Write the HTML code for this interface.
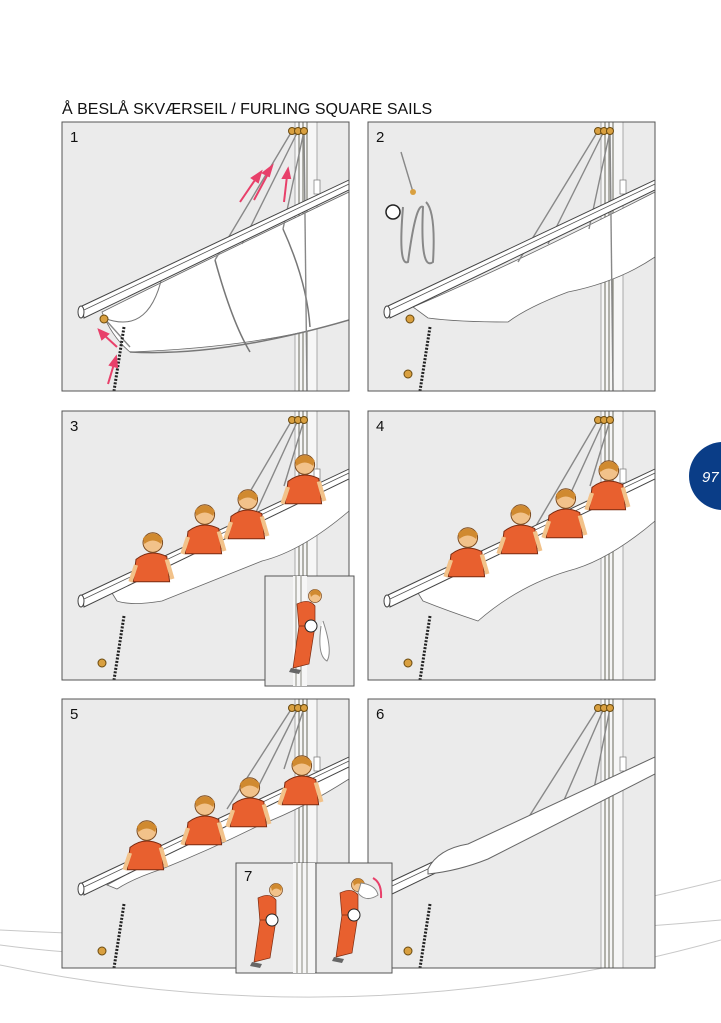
<!DOCTYPE html>
<html><head><meta charset="utf-8"><style>
html,body{margin:0;padding:0;background:#fff;}
svg{display:block;}
text{font-family:"Liberation Sans",sans-serif;}
</style></head><body>
<svg width="721" height="1023" viewBox="0 0 721 1023" xmlns="http://www.w3.org/2000/svg">
<defs>
 <clipPath id="pc"><rect x="0" y="0" width="287" height="269"/></clipPath>
 <g id="base">
  <rect x="0" y="0" width="287" height="269" fill="#ebebeb"/>
  <g clip-path="url(#pc)">
   <rect x="233" y="0" width="22" height="269" fill="#f6f6f6" stroke="#999" stroke-width="0.8"/>
   <line x1="237" y1="0" x2="237" y2="269" stroke="#8a8a80" stroke-width="1.3"/>
   <line x1="241" y1="0" x2="241" y2="269" stroke="#8a8a80" stroke-width="1.3"/>
   <line x1="245" y1="0" x2="245" y2="269" stroke="#8a8a80" stroke-width="1.3"/>
   <rect x="252" y="58" width="6" height="14" fill="#fff" stroke="#777" stroke-width="0.7"/>
  </g>
 </g>
 <g id="yard">
  <polygon points="20,184 287,58 287,68 22,196" fill="#fff" stroke="#444" stroke-width="1"/>
  <line x1="22" y1="188" x2="287" y2="62" stroke="#555" stroke-width="0.8"/>
  <ellipse cx="19" cy="190" rx="3" ry="6" fill="#fff" stroke="#444"/>
 </g>
 <g id="blocks">
  <circle cx="230" cy="9" r="3.5" fill="#d9a040" stroke="#6a4a10"/>
  <circle cx="236" cy="9" r="3.5" fill="#d9a040" stroke="#6a4a10"/>
  <circle cx="242" cy="9" r="3.5" fill="#d9a040" stroke="#6a4a10"/>
 </g>
 <g id="chain">
  <line x1="62" y1="205" x2="52" y2="269" stroke="#222" stroke-width="3" stroke-dasharray="2,1.5"/>
 </g>
 <g id="man0">
  <path d="M-10,6 Q0,-2 12,4 L14,22 L-12,22 Z" fill="#e8602f" stroke="#7a2a10" stroke-width="0.7"/>
  <circle cx="2" cy="-6" r="7" fill="#f2c28a" stroke="#7a4a20" stroke-width="0.7"/>
  <path d="M-5,-9 Q2,-16 9,-9 L8,-5 Q2,-10 -4,-5 Z" fill="#d08a30"/>
  <path d="M-10,10 L-14,22 M12,6 L16,20" stroke="#f2c28a" stroke-width="3"/>
 </g>
 <g id="man"><use href="#man0" transform="scale(1.4)"/></g>
 <g id="stand">
  <path d="M-8,-20 Q4,-26 10,-18 L10,2 L-6,4 Z" fill="#e8602f" stroke="#7a2a10" stroke-width="0.7"/>
  <path d="M-6,2 L10,2 L4,40 L-12,44 Z" fill="#e8602f" stroke="#7a2a10" stroke-width="0.7"/>
  <circle cx="10" cy="-28" r="6.5" fill="#f2c28a" stroke="#7a4a20" stroke-width="0.7"/>
  <path d="M5,-31 Q10,-38 16,-31 L15,-27 Q10,-32 6,-27Z" fill="#d08a30"/>
  <circle cx="6" cy="2" r="6" fill="#fff" stroke="#222"/>
  <path d="M-14,44 l10,2 l-2,4 l-10,-2Z" fill="#666"/>
 </g>
</defs>

<text x="62" y="114" font-size="16" fill="#111">Å BESLÅ SKVÆRSEIL / FURLING SQUARE SAILS</text>

<g fill="none" stroke="#c8c8c8" stroke-width="1">
 <path d="M0,945 Q300,985 721,880"/>
 <path d="M0,965 Q360,1040 721,940"/>
 <path d="M0,930 Q400,950 721,920"/>
</g>

<circle cx="723" cy="476" r="34" fill="#0a3d87"/>
<text x="702" y="482" font-size="15" font-style="italic" fill="#fff">97</text>

<g transform="translate(62,122)">
 <use href="#base"/>
 <g clip-path="url(#pc)">
  <path d="M40,190 Q140,140 287,70 L287,198 Q200,225 68,230 Q50,215 40,190Z" fill="#fff" stroke="#666" stroke-width="0.8"/>
  <path d="M42,196 Q90,215 102,145" fill="none" stroke="#777"/>
  <path d="M68,230 Q160,235 287,198" fill="none" stroke="#777" stroke-width="1.5"/>
  <path d="M153,138 Q170,200 188,230" fill="none" stroke="#777" stroke-width="1.5"/>
  <path d="M221,107 Q245,160 248,205" fill="none" stroke="#777" stroke-width="1.5"/>
  <g stroke="#888" stroke-width="1.4">
   <line x1="230" y1="9" x2="153" y2="138"/>
   <line x1="236" y1="9" x2="180" y2="122"/>
   <line x1="242" y1="9" x2="221" y2="107"/>
   <line x1="242" y1="9" x2="245" y2="269"/>
   <line x1="42" y1="196" x2="68" y2="225"/>
  </g>
  <use href="#yard"/>
  <use href="#chain"/>
  <circle cx="42" cy="197" r="4" fill="#d9a040" stroke="#6a4a10"/>
  <g stroke="#e8406a" stroke-width="2" fill="#e8406a">
   <line x1="178" y1="80" x2="195" y2="55"/><polygon points="199,50 190,56 196,60"/>
   <line x1="192" y1="78" x2="207" y2="50"/><polygon points="210,44 201,51 207,54"/>
   <line x1="222" y1="80" x2="225" y2="54"/><polygon points="226,47 221,56 228,56"/>
   <line x1="55" y1="225" x2="42" y2="213"/><polygon points="37,208 40,217 46,212"/>
   <line x1="46" y1="262" x2="52" y2="242"/><polygon points="54,235 48,243 55,245"/>
  </g>
 </g>
 <use href="#blocks"/>
 <rect x="0" y="0" width="287" height="269" fill="none" stroke="#555"/>
 <text x="8" y="20" font-size="15" fill="#111">1</text>
</g>

<g transform="translate(368,122)">
 <use href="#base"/>
 <g clip-path="url(#pc)">
  <path d="M45,185 Q150,140 287,70 L287,135 Q250,160 200,170 Q160,185 140,200 Q90,200 60,196 Z" fill="#fff" stroke="#666" stroke-width="0.8"/>
  <g stroke="#888" stroke-width="1.4">
   <line x1="230" y1="9" x2="150" y2="140"/>
   <line x1="236" y1="9" x2="180" y2="122"/>
   <line x1="242" y1="9" x2="221" y2="107"/>
   <line x1="242" y1="9" x2="245" y2="269"/>
   <line x1="33" y1="30" x2="45" y2="70"/>
  </g>
  <use href="#yard"/>
  <use href="#chain"/>
  <circle cx="42" cy="197" r="4" fill="#d9a040" stroke="#6a4a10"/>
  <circle cx="40" cy="252" r="4" fill="#d9a040" stroke="#6a4a10"/>
  <circle cx="25" cy="90" r="7" fill="#fff" stroke="#222" stroke-width="1.5"/>
  <path d="M35,85 Q30,145 40,140 Q48,80 55,85 Q52,150 65,140 Q68,90 58,80" fill="none" stroke="#888" stroke-width="2"/>
  <circle cx="45" cy="70" r="3" fill="#d9a040"/>
 </g>
 <use href="#blocks"/>
 <rect x="0" y="0" width="287" height="269" fill="none" stroke="#555"/>
 <text x="8" y="20" font-size="15" fill="#111">2</text>
</g>

<g transform="translate(62,411)">
 <use href="#base"/>
 <g clip-path="url(#pc)">
  <path d="M50,182 Q150,130 287,60 L287,100 Q240,140 200,150 Q150,170 100,190 Q70,195 55,190Z" fill="#fff" stroke="#666" stroke-width="0.8"/>
  <g stroke="#888" stroke-width="1.4">
   <line x1="230" y1="9" x2="165" y2="120"/>
   <line x1="236" y1="9" x2="190" y2="110"/>
   <line x1="242" y1="9" x2="222" y2="75"/>
  </g>
  <use href="#yard"/>
  <use href="#chain"/>
  <circle cx="40" cy="252" r="4" fill="#d9a040" stroke="#6a4a10"/>
  <use href="#man" transform="translate(88,140)"/>
  <use href="#man" transform="translate(140,112)"/>
  <use href="#man" transform="translate(183,97)"/>
  <use href="#man" transform="translate(240,62)"/>
 </g>
 <use href="#blocks"/>
 <rect x="0" y="0" width="287" height="269" fill="none" stroke="#555"/>
 <text x="8" y="20" font-size="15" fill="#111">3</text>
</g>
<g transform="translate(265,576)">
 <rect x="0" y="0" width="89" height="110" fill="#ebebeb" stroke="#555"/>
 <rect x="28" y="0" width="14" height="110" fill="#f6f6f6"/>
 <line x1="31" y1="0" x2="31" y2="110" stroke="#8a8a80"/><line x1="36" y1="0" x2="36" y2="110" stroke="#8a8a80"/>
 <use href="#stand" transform="translate(40,48)"/>
 <path d="M58,45 Q68,75 62,85 Q52,80 56,50" fill="#fff" stroke="#888"/>
</g>

<g transform="translate(368,411)">
 <use href="#base"/>
 <g clip-path="url(#pc)">
  <path d="M50,182 Q150,130 287,60 L287,110 Q240,150 200,160 Q150,175 110,210 Q80,200 55,190Z" fill="#fff" stroke="#666" stroke-width="0.8"/>
  <g stroke="#888" stroke-width="1.4">
   <line x1="230" y1="9" x2="165" y2="120"/>
   <line x1="236" y1="9" x2="190" y2="110"/>
   <line x1="242" y1="9" x2="222" y2="75"/>
  </g>
  <use href="#yard"/>
  <use href="#chain"/>
  <circle cx="40" cy="252" r="4" fill="#d9a040" stroke="#6a4a10"/>
  <use href="#man" transform="translate(97,135)"/>
  <use href="#man" transform="translate(150,112)"/>
  <use href="#man" transform="translate(195,96)"/>
  <use href="#man" transform="translate(238,68)"/>
 </g>
 <use href="#blocks"/>
 <rect x="0" y="0" width="287" height="269" fill="none" stroke="#555"/>
 <text x="8" y="20" font-size="15" fill="#111">4</text>
</g>

<g transform="translate(62,699)">
 <use href="#base"/>
 <g clip-path="url(#pc)">
  <path d="M45,186 Q150,130 287,62 L287,80 Q240,110 200,125 Q150,150 100,170 Q70,180 55,190Z" fill="#fff" stroke="#666" stroke-width="0.8"/>
  <g stroke="#888" stroke-width="1.4">
   <line x1="230" y1="9" x2="165" y2="110"/>
   <line x1="236" y1="9" x2="190" y2="100"/>
   <line x1="242" y1="9" x2="222" y2="70"/>
  </g>
  <use href="#yard"/>
  <use href="#chain"/>
  <circle cx="40" cy="252" r="4" fill="#d9a040" stroke="#6a4a10"/>
  <use href="#man" transform="translate(82,140)"/>
  <use href="#man" transform="translate(140,115)"/>
  <use href="#man" transform="translate(185,97)"/>
  <use href="#man" transform="translate(237,75)"/>
 </g>
 <use href="#blocks"/>
 <rect x="0" y="0" width="287" height="269" fill="none" stroke="#555"/>
 <text x="8" y="20" font-size="15" fill="#111">5</text>
</g>

<g transform="translate(368,699)">
 <use href="#base"/>
 <g clip-path="url(#pc)">
  <g stroke="#888" stroke-width="1.4">
   <line x1="230" y1="9" x2="150" y2="135"/>
   <line x1="236" y1="9" x2="190" y2="115"/>
   <line x1="242" y1="9" x2="225" y2="95"/>
  </g>
  <use href="#yard"/>
  <path d="M60,170 Q70,150 100,145 L287,58 L287,75 L120,160 Q90,172 60,175Z" fill="#fff" stroke="#666"/>
  <use href="#chain"/>
  <circle cx="40" cy="252" r="4" fill="#d9a040" stroke="#6a4a10"/>
 </g>
 <use href="#blocks"/>
 <rect x="0" y="0" width="287" height="269" fill="none" stroke="#555"/>
 <text x="8" y="20" font-size="15" fill="#111">6</text>
</g>

<g transform="translate(236,863)">
 <rect x="0" y="0" width="156" height="110" fill="#ebebeb" stroke="#555"/>
 <rect x="57" y="0" width="22" height="110" fill="#f6f6f6"/>
 <line x1="61" y1="0" x2="61" y2="110" stroke="#8a8a80"/><line x1="66" y1="0" x2="66" y2="110" stroke="#8a8a80"/><line x1="71" y1="0" x2="71" y2="110" stroke="#8a8a80"/>
 <line x1="80" y1="0" x2="80" y2="110" stroke="#555"/>
 <text x="8" y="18" font-size="15" fill="#111">7</text>
 <use href="#stand" transform="translate(30,55)"/>
 <use href="#stand" transform="translate(112,50)"/>
 <path d="M125,20 Q140,22 142,32 Q130,40 122,30Z" fill="#fff" stroke="#888"/>
 <path d="M145,35 Q146,20 137,15" fill="none" stroke="#e8406a" stroke-width="2"/>
</g>
</svg>
</body></html>
